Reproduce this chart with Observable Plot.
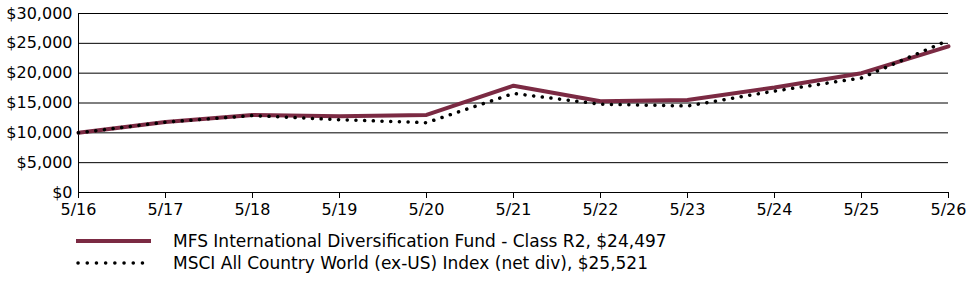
<!DOCTYPE html>
<html>
<head>
<meta charset="utf-8">
<script src="https://cdn.jsdelivr.net/npm/d3@7"></script>
<script src="https://cdn.jsdelivr.net/npm/@observablehq/plot@0.6"></script>
<style>
  body { margin: 0; background: #fff; font-family: "DejaVu Sans", Verdana, sans-serif; color: #000; }
  #legend { position: relative; height: 56px; font-size: 17px; }
  .item { position: absolute; left: 76px; height: 20px; display: flex; align-items: center; white-space: nowrap; }
  .item svg { margin-right: 22px; }
</style>
</head>
<body>
<div id="chart"></div>
<div id="legend"></div>
<script>
// Growth of a hypothetical $10,000 investment, May 2016 – May 2026
const periods = ["5/16", "5/17", "5/18", "5/19", "5/20", "5/21", "5/22", "5/23", "5/24", "5/25", "5/26"];
const fundValues = [10000, 11800, 13000, 12800, 13000, 17900, 15300, 15500, 17600, 20000, 24497];
const indexValues = [10000, 11800, 12900, 12200, 11700, 16600, 14800, 14500, 17000, 19200, 25521];
const yTicks = [0, 5000, 10000, 15000, 20000, 25000, 30000];
const seriesNames = [
  "MFS International Diversification Fund - Class R2",
  "MSCI All Country World (ex-US) Index (net div)"
];

const fundColor = "#7b2a43";
const money = d => "$" + d3.format(",")(d);

const fund = periods.map((p, i) => ({period: p, value: fundValues[i]}));
const index = periods.map((p, i) => ({period: p, value: indexValues[i]}));

const chart = Plot.plot({
  width: 975,
  height: 225,
  marginLeft: 78,
  marginRight: 27,
  marginTop: 13,
  marginBottom: 33,
  style: {fontFamily: "DejaVu Sans, Verdana, sans-serif", fontSize: "16px", color: "#000", background: "#fff"},
  x: {type: "point", domain: periods, padding: 0},
  y: {domain: [0, 30000]},
  marks: [
    Plot.ruleY(yTicks, {stroke: "#000", strokeWidth: 1}),
    Plot.ruleX([periods[0]], {stroke: "#000", strokeWidth: 1}),
    Plot.axisY({ticks: yTicks, tickSize: 0, tickPadding: 6, tickFormat: money, label: null}),
    Plot.axisX({tickSize: 6, tickPadding: 5, label: null}),
    Plot.line(fund, {x: "period", y: "value", stroke: fundColor, strokeWidth: 4, strokeLinejoin: "miter"}),
    Plot.line(index, {x: "period", y: "value", stroke: "#000", strokeWidth: 3.5, strokeLinecap: "round", strokeDasharray: "0.1 8.6"})
  ]
});
document.getElementById("chart").append(chart);

// Legend below the chart
const legend = d3.select("#legend");
const rows = [
  {name: seriesNames[0], last: fundValues.at(-1), stroke: fundColor, width: 4, dash: null, cap: "butt"},
  {name: seriesNames[1], last: indexValues.at(-1), stroke: "#000", width: 3.5, dash: "0.1 9.1", cap: "round"}
];
rows.forEach((r, i) => {
  const item = legend.append("div").attr("class", "item").style("top", (6 + i * 22) + "px");
  const svg = item.append("svg").attr("width", 75).attr("height", 20);
  svg.append("line")
    .attr("x1", r.cap === "round" ? 2 : 0).attr("x2", 75).attr("y1", 10).attr("y2", 10)
    .attr("stroke", r.stroke).attr("stroke-width", r.width)
    .attr("stroke-linecap", r.cap)
    .attr("stroke-dasharray", r.dash);
  item.append("span").text(`${r.name}, ${money(r.last)}`);
});
</script>
</body>
</html>
